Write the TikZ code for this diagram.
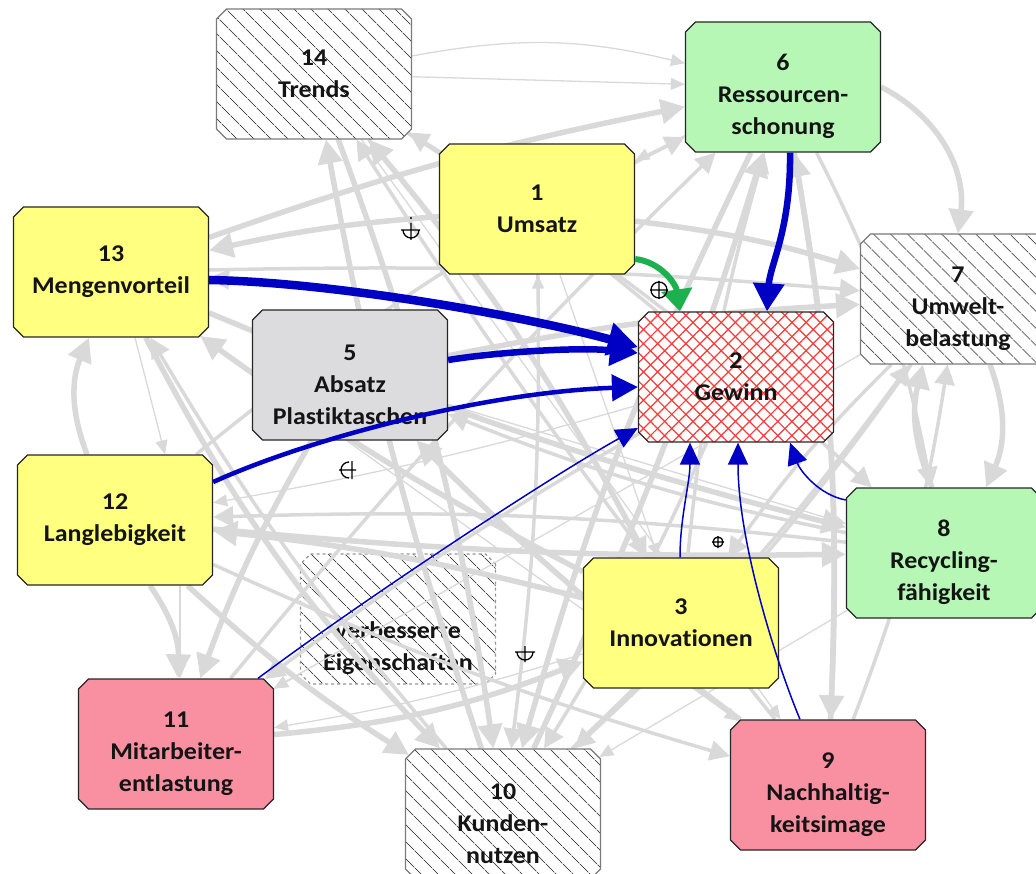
\documentclass[tikz,border=0pt]{standalone}
\usepackage{fontspec}
\setmainfont{Carlito}[FakeStretch=1.08,Ligatures=NoCommon]
\usetikzlibrary{shapes.misc,arrows.meta,patterns.meta,calc}

\definecolor{boxyellow}{HTML}{FFFF80}
\definecolor{boxgreen}{HTML}{B6F7B6}
\definecolor{boxgrey}{HTML}{DCDCDE}
\definecolor{boxpink}{HTML}{F890A2}
\definecolor{linkgrey}{HTML}{D9D9D9}
\definecolor{strongblue}{HTML}{0000C4}
\definecolor{loopgreen}{HTML}{1DB04E}
\definecolor{hatchgrey}{HTML}{4A4A4A}
\definecolor{framegrey}{HTML}{7A7A7A}
\definecolor{gainred}{HTML}{FF3838}

\pgfdeclarelayer{base}
\pgfdeclarelayer{links}
\pgfsetlayers{base,links,main}

\tikzset{
  factor/.style={chamfered rectangle, chamfered rectangle xsep=5pt,
    chamfered rectangle ysep=5pt,
    minimum width=195pt, minimum height=130pt, inner sep=0pt, align=center,
    draw=black!85, line width=1.3pt, text=black!92,
    font=\bfseries\fontsize{24}{32}\selectfont},
  yellowbox/.style={factor, fill=boxyellow},
  greenbox/.style={factor, fill=boxgreen},
  greybox/.style={factor, fill=boxgrey},
  pinkbox/.style={factor, fill=boxpink},
  hatchbox/.style={factor, draw=framegrey, line width=1.1pt,
    preaction={fill=white},
    pattern={Lines[angle=-45,distance=13pt,line width=0.9pt]},
    pattern color=hatchgrey},
  gainbox/.style={factor, preaction={fill=white},
    preaction={pattern={Lines[angle=45,distance=10pt,line width=1.2pt]},
      pattern color=gainred},
    pattern={Lines[angle=-45,distance=10pt,line width=1.2pt]},
    pattern color=gainred},
  gwide/.style={draw=linkgrey, line width=5.5pt, -{Triangle[length=24pt,width=24pt]}},
  gmid/.style={draw=linkgrey, line width=3.5pt, -{Triangle[length=20pt,width=20pt]}},
  gfine/.style={draw=linkgrey, line width=1.3pt, -{Triangle[length=14pt,width=12pt]}},
  bheavy/.style={draw=strongblue, line width=8.5pt, -{Triangle[length=30pt,width=32pt]}},
  bstrong/.style={draw=strongblue, line width=6.5pt, -{Triangle[length=28pt,width=30pt]}},
  bmedium/.style={draw=strongblue, line width=4.5pt, -{Triangle[length=26pt,width=26pt]}},
  bthin/.style={draw=strongblue, line width=1.5pt, -{Triangle[length=22pt,width=20pt]}},
  gloop/.style={draw=loopgreen, line width=6pt, -{Triangle[length=22pt,width=30pt]}},
  signpen/.style={draw=black, line width=1.3pt}
}

\begin{document}
\begin{tikzpicture}[x=1pt,y=1pt]
\useasboundingbox (0,0) rectangle (1036,-874);
\clip (0,0) rectangle (1036,-874);

% faded factor lying beneath the links
\begin{pgfonlayer}{base}
  \node[hatchbox, dashed, draw=framegrey!80] (nv) at (398,-619)
    {\rule{0pt}{44pt}\\verbesserte\\Eigenschaften};
\end{pgfonlayer}

% factors
\node[hatchbox]  (n14) at (314,-74)  {14\\Trends};
\node[greenbox]  (n6)  at (783,-87)  {\rule{0pt}{36pt}6\\Ressourcen-\\schonung};
\node[yellowbox] (n1)  at (537,-209) {1\\Umsatz};
\node[yellowbox] (n13) at (111,-272) {13\\Mengenvorteil};
\node[hatchbox]  (n7)  at (958,-299) {\rule{0pt}{36pt}7\\Umwelt-\\belastung};
\node[greybox]   (n5)  at (350,-375) {\rule{0pt}{36pt}5\\Absatz\\Plastiktaschen};
\node[gainbox]   (n2)  at (736,-377) {2\\Gewinn};
\node[yellowbox] (n12) at (115,-520) {12\\Langlebigkeit};
\node[greenbox]  (n8)  at (944,-553) {\rule{0pt}{36pt}8\\Recycling-\\fähigkeit};
\node[yellowbox] (n3)  at (681,-623) {3\\Innovationen};
\node[pinkbox]   (n11) at (176,-744) {\rule{0pt}{36pt}11\\Mitarbeiter-\\entlastung};
\node[pinkbox]   (n9)  at (828,-785) {\rule{0pt}{36pt}9\\Nachhaltig-\\keitsimage};
\node[hatchbox]  (n10) at (503,-814) {\rule{0pt}{36pt}10\\Kunden-\\nutzen};

% weak influences (grey web)
\begin{pgfonlayer}{links}
\clip (0,0) rectangle (1036,-874);
% into Trends
\draw[gwide] (n10) to[bend left=4] (n14);
\draw[gwide] (n3) to[bend right=6] (n14);
\draw[gmid] (n2) to[bend right=4] (n14);
\draw[gmid] (n9) to[bend left=3] (n14);
% into Ressourcenschonung
\draw[gfine] (n14) to[bend left=12] (n6);
\draw[gfine] (n14) to (n6);
\draw[gwide] (n13) to[bend left=4] (n6);
\draw[gmid] (n12) to[bend left=6] (n6);
\draw[gwide] (n10) to[bend right=4] (n6);
\draw[gwide] (n9) to[bend right=6] (n6);
\draw[gmid] (n11) to[bend left=3] (n6);
\draw[gmid] (n3) to[bend left=5] (n6);
% into Mengenvorteil
\draw[gwide] (n1) to[bend right=4] (n13);
\draw[gmid] (n2) to[bend right=6] (n13);
\draw[gwide] (n3) to[bend left=4] (n13);
\draw[gmid] (n10) to[bend left=5] (n13);
\draw[gwide] ($(n12.north)+(-28,0)$) to[bend left=22] ($(n13.south)+(-22,0)$);
\draw[gfine] ($(n13.south)+(24,0)$) -- ($(n12.north)+(50,0)$);
% into Mitarbeiterentlastung
\draw[gwide] ($(n12.south)+(35,0)$) to[bend left=18] ($(n11.north)+(2,0)$);
\draw[gfine] ($(n12.south)+(65,0)$) -- ($(n11.north)+(4,0)$);
\draw[gwide] (n5) to[bend right=5] (n11);
\draw[gmid] (n2) to[bend right=3] (n11);
\draw[gfine] (n3) to[bend left=4] (n11);
\draw[gfine] (nv) to (n11);
% into Kundennutzen
\draw[gwide] (n14) to[bend left=6] (n10);
\draw[gwide] (n13) to[bend right=8] (n10);
\draw[gwide] (n12) to[bend right=5] (n10);
\draw[gmid] (n1) to[bend left=4] (n10);
\draw[gwide] (n6) to[bend right=5] (n10);
\draw[gmid] (n7) to[bend left=6] (n10);
\draw[gmid] (n2) to[bend left=4] (n10);
% Umweltbelastung and Recyclingfaehigkeit
\draw[gwide] ($(n7.south)+(32,0)$) to[bend left=22] ($(n8.north)+(42,0)$);
\draw[gwide] ($(n8.north)+(-12,0)$) to[bend left=18] ($(n7.south)+(-35,0)$);
\draw[gwide] (n6.east) to[bend left=35] (n7.north);
\draw[gwide] (n1) to[bend left=5] (n7);
\draw[gmid] (n13) to[bend left=3] (n7);
\draw[gwide] (n5) to[bend left=4] (n7);
\draw[gmid] (n10) to[bend right=5] (n7);
\draw[gmid] (n9) to[bend right=6] (n7);
\draw[gwide] (n13) to[bend right=4] (n8);
\draw[gwide] (n12) to[bend right=3] (n8);
\draw[gmid] (n14) to[bend left=5] (n8);
\draw[gmid] (n6) to[bend left=8] (n8);
% further cross links
\draw[gwide] (n3) to[bend right=4] (n12);
\draw[gmid] (n8) to[bend right=4] (n12);
\draw[gwide] (n9) to[bend left=4] (n5);
\draw[gmid] (n8) to[bend left=5] (n5);
\draw[gwide] (n6) to[bend left=6] (n9);
\draw[gmid] (n12) to[bend right=4] (n9);
\draw[gwide] (n11) to[bend right=8] (n3);
\draw[gmid] (n14) to[bend left=6] (n3);
\draw[gmid] (n7) to[bend right=5] (n3);
\draw[gfine] (n6) to (n1);
\draw[gfine] (n10) to[bend right=4] (n1);
\draw[gfine] (n13) to (n9);
\draw[gfine] (n5) to (n8);
\draw[gfine] (n2) to[bend left=3] (n12);
\draw[gfine] (n14) to (n9);
\draw[gfine] (n7) to (n11);
\draw[gfine] (n8) to (n10);
\draw[gfine] (n1) to (n3);
\end{pgfonlayer}

% strong influences on Gewinn
\draw[bstrong] ($(n6.south)+(7,0)$) .. controls +(1,-77) and +(3,47) .. ($(n2.north)+(31,0)$);
\draw[bheavy] ($(n13.east)+(0,-8)$) .. controls +(121,-2) and +(-118,32) .. ($(n2.west)+(0,30)$);
\draw[bstrong] ($(n5.east)+(0,15)$) .. controls +(50,8) and +(-60,6) .. ($(n2.west)+(0,24)$);
\draw[bmedium] ($(n12.east)+(0,38)$) .. controls +(100,45) and +(-150,-5) .. ($(n2.west)+(0,-10)$);
\draw[bthin] ($(n11.north)+(82,0)$) .. controls +(100,75) and +(-90,-50) .. ($(n2.west)+(0,-51)$);
\draw[bthin] ($(n3.north)+(-1,0)$) .. controls +(0,40) and +(0,-40) .. ($(n2.south)+(-46,0)$);
\draw[bthin] ($(n9.north)+(-28,0)$) .. controls +(-25,60) and +(0,-98) .. ($(n2.south)+(2,0)$);
\draw[bthin] ($(n8.west)+(0,53)$) .. controls +(-27,5) and +(10,-28) .. ($(n2.south)+(54,0)$);
\draw[gloop] ($(n1.east)+(0,-50)$) .. controls +(26,-3) and +(-4,27) .. ($(n2.north)+(-56,0)$);

% polarity signs on the links
\draw[signpen] (659,-290) circle[radius=8] (650,-290) -- (668,-290) (659,-281) -- (659,-299);
\draw[signpen] (718,-542) circle[radius=5] (712,-542) -- (724,-542) (718,-536) -- (718,-548);
\draw[signpen] (403,-230) arc[start angle=180,end angle=360,radius=8]
  (401,-230) -- (420,-230) (411,-223) -- (411,-240);
\fill (411,-218) circle[radius=1.2];
\draw[signpen] (349,-462) arc[start angle=90,end angle=270,radius=8]
  (339,-470) -- (356,-470) (352,-461) -- (352,-479);
\draw[signpen] (517,-652) arc[start angle=180,end angle=360,radius=8]
  (515,-652) -- (535,-652) (525,-646) -- (525,-662);
\end{tikzpicture}
\end{document}
